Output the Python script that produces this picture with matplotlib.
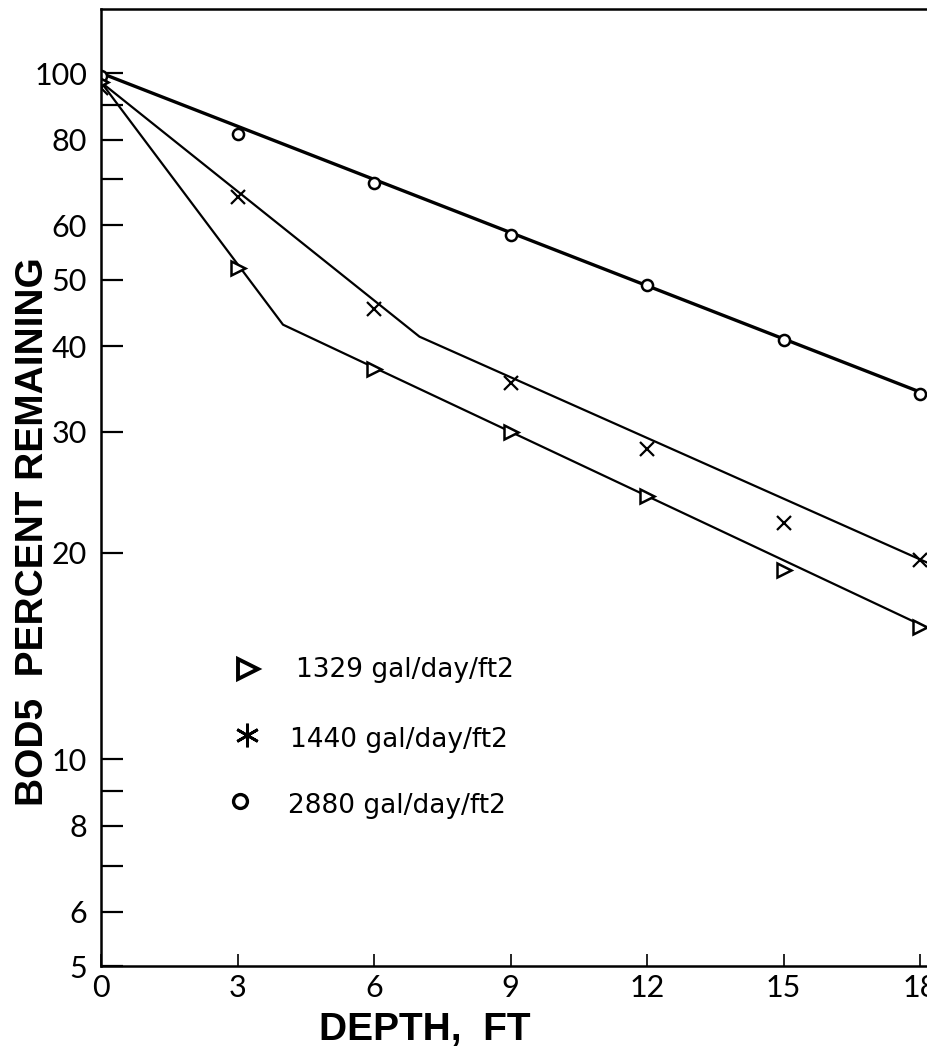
import matplotlib
matplotlib.use("Agg")
import matplotlib.pyplot as plt
from matplotlib.lines import Line2D
from matplotlib.ticker import FixedLocator, NullFormatter, NullLocator

# data (depth in ft, BOD5 % remaining)
depth = [0, 3, 6, 9, 12, 15, 18]
bod_1329 = [97, 52, 37, 30, 24.2, 18.9, 15.6]
bod_1440 = [95, 66, 45.3, 35.3, 28.3, 22.1, 19.5]
bod_2880 = [99, 81.5, 69.2, 58.1, 49.1, 40.9, 34.1]

# hand-drawn fit lines
fit_1329_x = [0, 4, 18.2]
fit_1329_y = [97, 43, 15.5]
fit_1440_x = [0, 7, 18.2]
fit_1440_y = [97, 41.3, 19.3]
fit_2880_x = [0, 18.2]
fit_2880_y = [100, 33.9]

xticks = [0, 3, 6, 9, 12, 15, 18]
yticks = [100, 90, 80, 70, 60, 50, 40, 30, 20, 10, 9, 8, 7, 6, 5]
ylabels = {100: "100", 80: "80", 60: "60", 50: "50", 40: "40", 30: "30",
           20: "20", 10: "10", 8: "8", 6: "6", 5: "5"}

legend_names = ["1329 gal/day/ft2", "1440 gal/day/ft2", "2880 gal/day/ft2"]

W, H = 928, 1055
fig = plt.figure(figsize=(W / 100, H / 100), dpi=100)
# axes: left spine at x=101, bottom at y=966, top at y=9 ; 45.5 px per ft
left, bottom, top = 101 / W, 1 - 966 / H, 1 - 9 / H
xmax = 19.0
ax = fig.add_axes([left, bottom, xmax * 45.5 / W, top - bottom])
ax.set_yscale("log")
ax.set_xlim(0, xmax)
ax.set_ylim(5, 124)

tick_font = dict(family=["Lato", "DejaVu Sans"], weight="normal", size=22,
                 color="black")

ax.plot(fit_2880_x, fit_2880_y, color="black", lw=2.4)
ax.plot(fit_1440_x, fit_1440_y, color="black", lw=1.6)
ax.plot(fit_1329_x, fit_1329_y, color="black", lw=1.6)

ax.plot(depth, bod_2880, "o", ms=8, mfc="white", mec="black", mew=1.8)
ax.plot(depth, bod_1440, "x", ms=10, color="black", mew=1.6)
ax.plot(depth, bod_1329, ">", ms=10, mfc="white", mec="black", mew=1.8)

ax.yaxis.set_major_locator(FixedLocator(yticks))
ax.yaxis.set_minor_locator(NullLocator())
ax.yaxis.set_minor_formatter(NullFormatter())
ax.set_yticklabels([ylabels.get(v, "") for v in yticks], **tick_font)
ax.set_xticks(xticks)
ax.set_xticklabels([str(v) for v in xticks], **tick_font)

ax.tick_params(axis="y", direction="in", length=16, width=1.6, pad=10)
ax.tick_params(axis="x", direction="in", length=9, width=1.2, pad=6)
for s in ax.spines.values():
    s.set_linewidth(1.8)

# labels
fig.text(33 / W, 1 - 532 / H, "BOD5  PERCENT REMAINING", rotation=90,
         ha="center", va="center", family="Liberation Sans",
         weight="bold", size=28)
fig.text(425 / W, 1 - 1030 / H, "DEPTH,  FT", ha="center", va="center",
         family="Liberation Sans", weight="bold", size=28)

# hand-made legend
leg_marks = [(">", 248, 669, 15, 2.8), ((6, 2, 0), 247, 735, 17, 2.0),
             ("o", 240, 801, 10, 2.4)]
leg_text = [(296, 677), (290, 747), (288, 813)]
for (m, mx, my, ms, mw), (tx, ty), name in zip(leg_marks, leg_text, legend_names):
    fig.add_artist(Line2D([mx / W], [1 - my / H], marker=m, ms=ms,
                          mfc="white", mec="black", mew=mw, color="black",
                          transform=fig.transFigure))
    fig.text(tx / W, 1 - ty / H, name, ha="left", va="baseline",
             family="DejaVu Sans", size=19)

fig.savefig("out.png", dpi=100)
